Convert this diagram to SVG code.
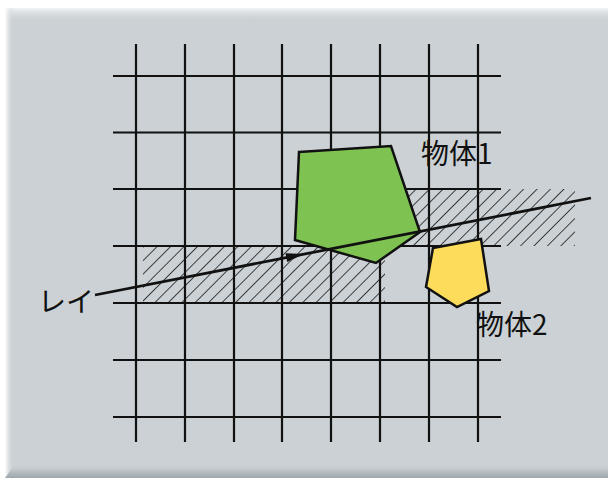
<svg xmlns="http://www.w3.org/2000/svg" width="608" height="482" viewBox="0 0 608 482">
<defs>
<linearGradient id="gl" x1="0" y1="0" x2="1" y2="0"><stop offset="0" stop-color="#ffffff"/><stop offset="1" stop-color="#cbd1d4" stop-opacity="0"/></linearGradient>
<linearGradient id="gt" x1="0" y1="0" x2="0" y2="1"><stop offset="0" stop-color="#f2f4f5"/><stop offset="1" stop-color="#cbd1d4" stop-opacity="0"/></linearGradient>
<linearGradient id="gb" x1="0" y1="0" x2="0" y2="1"><stop offset="0" stop-color="#cbd1d4" stop-opacity="0"/><stop offset="0.6" stop-color="#b3bbbe"/><stop offset="1" stop-color="#9ea7ab"/></linearGradient>
<pattern id="hatch" patternUnits="userSpaceOnUse" width="9.5" height="9.5" patternTransform="rotate(45)">
<line x1="0" y1="0" x2="0" y2="9.5" stroke="#1a1a1a" stroke-width="1.6"/>
</pattern>
<style>
.grid{stroke:#111;stroke-width:2.2;fill:none}
.shape{stroke:#111;stroke-width:2.5;stroke-linejoin:miter}
.lbl{font-family:"Noto Sans CJK JP","Noto Sans",sans-serif;font-size:28px;fill:#111}
</style>
</defs>
<rect x="0" y="0" width="608" height="482" fill="#ffffff"/>
<g id="panel">
<rect x="5" y="8" width="610" height="470" fill="#cbd1d4"/>
<rect x="5" y="8" width="610" height="14" fill="url(#gt)"/>
<rect x="5" y="8" width="9" height="470" fill="url(#gl)"/>
<polygon points="5,478 15,464 615,464 615,478" fill="url(#gb)"/>
</g>
<g id="hatched-cells">
<rect x="143" y="246" width="242" height="57" fill="url(#hatch)"/>
<rect x="331" y="189" width="244" height="57" fill="url(#hatch)"/>
</g>
<g id="grid" class="grid">
<path d="M136 44V442M185 44V442M234 44V442M282 44V442M331 44V442M380 44V442M429 44V442M478 44V442"/>
<path d="M113 76H501M113 132.5H501M113 189H501M113 246H501M113 303H501M113 360H501M113 417H501"/>
</g>
<g id="object1">
<polygon class="shape" points="299,152 391,146 420,232 376,263 295,240" fill="#7ec352"/>
<text class="lbl" x="421" y="164">物体1</text>
</g>
<g id="object2">
<polygon class="shape" points="433,248 481,239 489,291 457,307 426,287" fill="#fddc5b"/>
<text class="lbl" x="476" y="335">物体2</text>
</g>
<g id="connectors">
<line x1="95" y1="295" x2="591" y2="198" stroke="#111" stroke-width="2.8"/>
<polygon points="304,254.1 287.2,262 285.5,253.2" fill="#111"/>
</g>
<g id="ray-label">
<text class="lbl" x="38" y="312">レイ</text>
</g>
</svg>
